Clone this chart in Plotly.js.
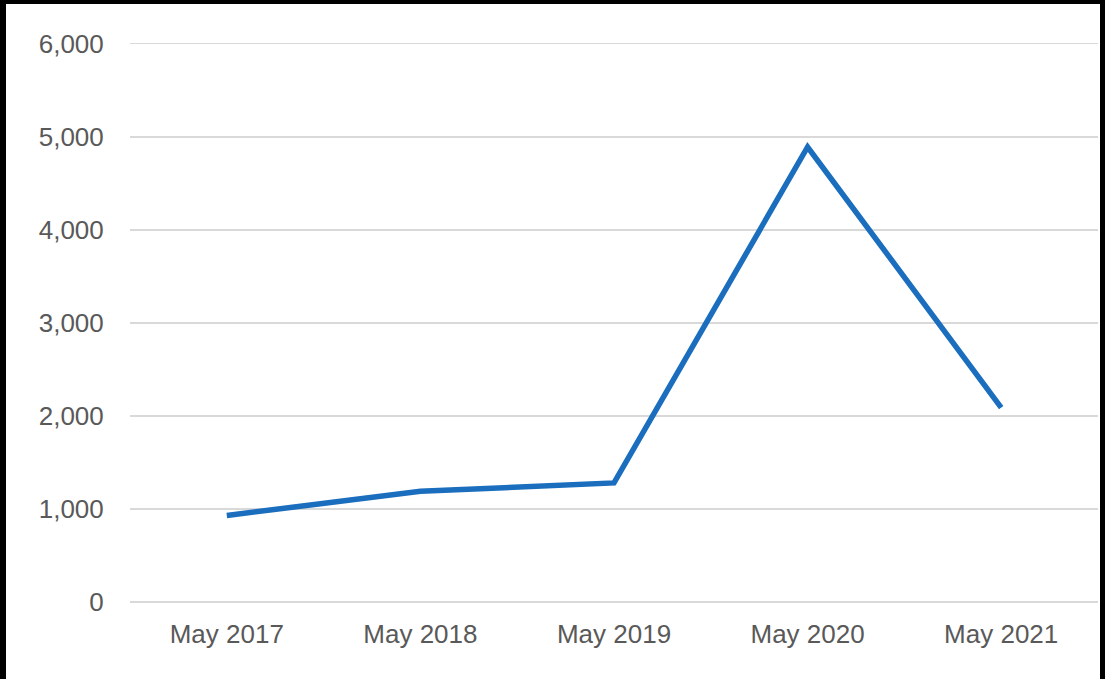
<!DOCTYPE html>
<html>
<head>
<meta charset="utf-8">
<script src="https://cdn.plot.ly/plotly-3.0.1.min.js"></script>
<style>
  html, body { margin: 0; padding: 0; background: #000; width: 1105px; height: 679px; overflow: hidden; }
  #chart { position: absolute; left: 6px; top: 4px; width: 1094px; height: 675px; background: #fff; }
</style>
</head>
<body>
<div id="chart"></div>
<script>
const categories = ["May 2017", "May 2018", "May 2019", "May 2020", "May 2021"];
const values = [930, 1190, 1280, 4890, 2090];
const yTicks = [0, 1000, 2000, 3000, 4000, 5000, 6000];
const yTickLabels = ["0", "1,000", "2,000", "3,000", "4,000", "5,000", "6,000"];

const trace = {
  x: categories,
  y: values,
  type: 'scatter',
  mode: 'lines',
  line: { color: '#1a6ebd', width: 5.5 },
  hoverinfo: 'x+y'
};

const layout = {
  width: 1094,
  height: 675,
  margin: { l: 124, r: 2, t: 36, b: 77 },
  paper_bgcolor: '#ffffff',
  plot_bgcolor: '#ffffff',
  showlegend: false,
  font: { family: 'Liberation Sans, Arial, sans-serif', size: 26, color: '#595959' },
  xaxis: {
    type: 'category',
    range: [-0.5, categories.length - 0.5],
    showgrid: false,
    zeroline: false,
    showline: false,
    ticks: 'outside',
    ticklen: 9,
    tickcolor: 'rgba(0,0,0,0)',
    tickfont: { size: 26, color: '#595959' },
    fixedrange: true
  },
  yaxis: {
    range: [0, 6040],
    tickvals: yTicks,
    ticktext: yTickLabels,
    showgrid: true,
    gridcolor: '#d9d9d9',
    gridwidth: 1.5,
    zeroline: true,
    zerolinecolor: '#d9d9d9',
    zerolinewidth: 1.5,
    showline: false,
    ticks: 'outside',
    ticklen: 20,
    tickcolor: 'rgba(0,0,0,0)',
    tickfont: { size: 26, color: '#595959' },
    fixedrange: true
  }
};

Plotly.newPlot('chart', [trace], layout, { displayModeBar: false, staticPlot: true });
</script>
</body>
</html>
